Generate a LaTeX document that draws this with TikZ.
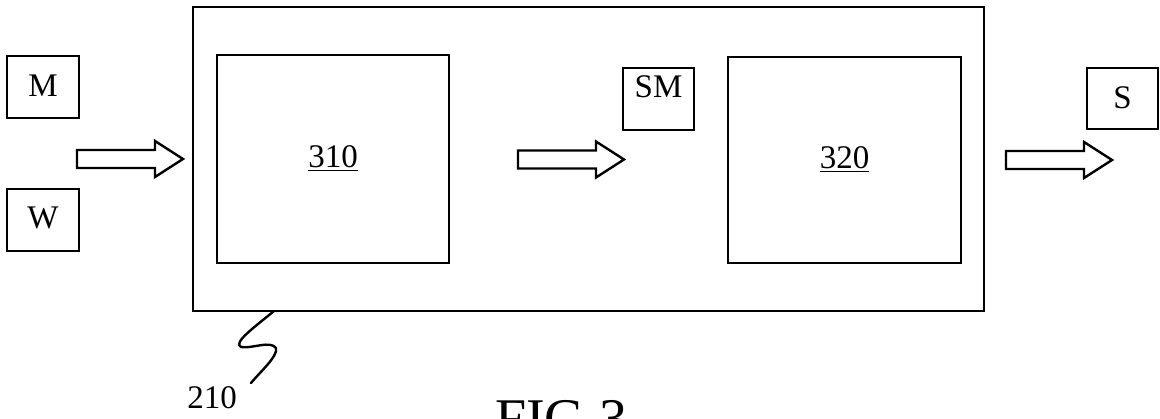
\documentclass[tikz,border=0pt]{standalone}
\usepackage{fontspec}
\setmainfont{Liberation Serif}
\begin{document}
\begin{tikzpicture}[x=1pt,y=-1pt,
  line join=miter,
  box/.style={draw, line width=2.4pt, inner sep=0pt},
  lbl/.style={inner sep=0pt, font=\fontsize{33}{38}\selectfont},
  blockarrow/.pic={\draw[line width=2.4pt, line join=miter]
     (0,-9) -- (78,-9) -- (78,-18) -- (106,0) -- (78,18) -- (78,9) -- (0,9) -- cycle;}]
\path[clip] (0,0) rectangle (1160,419);
% outer system box 210
\node[box, minimum width=791pt, minimum height=304pt] (sys) at (588.5,159) {};
% inner boxes
\node[box, minimum width=232pt, minimum height=208pt] (b310) at (333,159) {};
\node[box, minimum width=233pt, minimum height=206pt] (b320) at (844.5,160) {};
\node[lbl, anchor=base] (t310) at (333,168) {\underline{310}};
\node[lbl, anchor=base] (t320) at (844.5,169) {\underline{320}};
% input/output boxes
\node[box, minimum width=72pt, minimum height=62pt] (M) at (43,87) {};
\node[lbl] (tM) at (43,86) {M};
\node[box, minimum width=72pt, minimum height=62pt] (W) at (43,220) {};
\node[lbl] (tW) at (43,218) {W};
\node[box, minimum width=71pt, minimum height=62pt] (SM) at (658.5,99) {};
\node[lbl] (tSM) at (658.5,87) {SM};
\node[box, minimum width=71pt, minimum height=61pt] (S) at (1122.5,98.5) {};
\node[lbl] (tS) at (1122.5,97.5) {S};
% block arrows
\pic at (77,159) {blockarrow};
\pic at (518,159.5) {blockarrow};
\pic at (1006,160) {blockarrow};
% reference squiggle
\coordinate (sq) at (274,311);
\draw[line width=2.4pt, line cap=round] (sq) .. controls (256,326) and (232,343) .. (241,347)
  .. controls (252,349) and (270,340) .. (276,348)
  .. controls (278,356) and (262,370) .. (251,383);
\node[lbl] (t210) at (212,398) {210};
% figure caption
\node[inner sep=0pt, anchor=base west, font=\fontsize{56}{60}\selectfont] (fig) at (495,438) {FIG.3};
\end{tikzpicture}
\end{document}
